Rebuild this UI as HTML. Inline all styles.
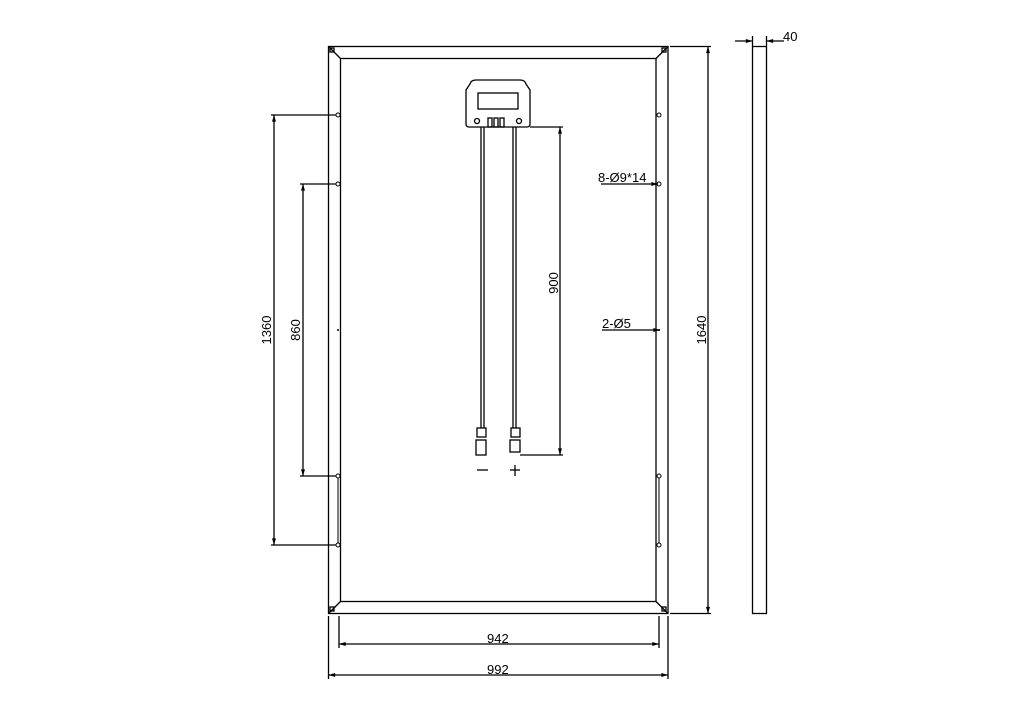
<!DOCTYPE html>
<html><head><style>body{margin:0;background:#fff}svg{display:block}text{font-family:"Liberation Sans",sans-serif;font-size:13px;fill:#000}</style></head>
<body>
<svg width="1011" height="705" viewBox="0 0 1011 705" xmlns="http://www.w3.org/2000/svg">
<defs><marker id="a" viewBox="0 0 10 6" refX="10" refY="3" markerWidth="10" markerHeight="4" orient="auto-start-reverse" markerUnits="userSpaceOnUse"><path d="M0,0L10,3L0,6z" fill="#000"/></marker></defs>
<g stroke="#000" stroke-width="1.3" fill="none">
<rect x="328.5" y="46.5" width="339.5" height="567"/>
<rect x="340.5" y="58.5" width="315.5" height="543"/>
<line x1="328.5" y1="46.5" x2="340.5" y2="58.5"/><line x1="668" y1="46.5" x2="656" y2="58.5"/>
<line x1="328.5" y1="613.5" x2="340.5" y2="601.5"/><line x1="668" y1="613.5" x2="656" y2="601.5"/>
<rect x="330" y="48" width="4" height="4"/><rect x="662" y="48" width="4" height="4"/><rect x="330" y="607" width="4" height="4"/><rect x="662" y="607" width="4" height="4"/>
<rect x="752.5" y="46.5" width="14" height="567"/>
<!-- junction box -->
<path d="M470,84 Q471,80 476,80 H520 Q525,80 526,84 L530,90 V124 Q530,127 527,127 H469 Q466,127 466,124 V90 Z"/>
<rect x="478" y="93" width="40" height="16"/>
<circle cx="477" cy="121" r="2.5"/><circle cx="519" cy="121" r="2.5"/>
<rect x="488" y="118" width="4" height="9"/><rect x="494" y="118" width="4" height="9"/><rect x="500" y="118" width="4" height="9"/>
<line x1="481" y1="127" x2="481" y2="428"/><line x1="484" y1="127" x2="484" y2="428"/>
<line x1="513" y1="127" x2="513" y2="428"/><line x1="516" y1="127" x2="516" y2="428"/>
<rect x="477" y="428" width="9" height="9"/><rect x="476" y="440" width="10" height="15"/>
<rect x="511" y="428" width="9" height="9"/><rect x="510" y="440" width="10" height="12"/>
<!-- holes -->
<g stroke-width="1">
<circle cx="338" cy="115" r="2"/><circle cx="338" cy="184" r="2"/><circle cx="338" cy="476" r="2"/><circle cx="338" cy="545" r="2"/>
<circle cx="659" cy="115" r="2"/><circle cx="659" cy="184" r="2"/><circle cx="659" cy="476" r="2"/><circle cx="659" cy="545" r="2"/>
<line x1="338" y1="478" x2="338" y2="543"/><line x1="659" y1="478" x2="659" y2="543"/>
</g>
<!-- dims -->
<line x1="271" y1="115" x2="336" y2="115"/><line x1="274" y1="115" x2="274" y2="545" marker-start="url(#a)" marker-end="url(#a)"/><line x1="271" y1="545" x2="336" y2="545"/>
<line x1="300" y1="184" x2="336" y2="184"/><line x1="303" y1="184" x2="303" y2="476" marker-start="url(#a)" marker-end="url(#a)"/><line x1="300" y1="476" x2="336" y2="476"/>
<line x1="530" y1="127" x2="563" y2="127"/><line x1="560" y1="127" x2="560" y2="455" marker-start="url(#a)" marker-end="url(#a)"/><line x1="520" y1="455" x2="563" y2="455"/>
<line x1="670" y1="46.5" x2="711" y2="46.5"/><line x1="670" y1="613.5" x2="711" y2="613.5"/><line x1="708" y1="46.5" x2="708" y2="613.5" marker-start="url(#a)" marker-end="url(#a)"/>
<line x1="339" y1="616" x2="339" y2="648"/><line x1="659" y1="616" x2="659" y2="648"/><line x1="339" y1="644" x2="659" y2="644" marker-start="url(#a)" marker-end="url(#a)"/>
<line x1="328.5" y1="616" x2="328.5" y2="679"/><line x1="668" y1="616" x2="668" y2="679"/><line x1="328.5" y1="675" x2="668" y2="675" marker-start="url(#a)" marker-end="url(#a)"/>
<line x1="752.5" y1="36" x2="752.5" y2="46"/><line x1="766.5" y1="36" x2="766.5" y2="46"/>
<line x1="735" y1="41" x2="752.5" y2="41" marker-end="url(#a)"/><line x1="784" y1="41" x2="766.5" y2="41" marker-end="url(#a)"/>
<line x1="601" y1="184" x2="658" y2="184" marker-end="url(#a)"/>
<line x1="602" y1="330" x2="660" y2="330" marker-end="url(#a)"/>
<line x1="477" y1="470" x2="488" y2="470"/><line x1="510" y1="470" x2="520" y2="470"/><line x1="515" y1="465" x2="515" y2="476"/>
</g>
<circle cx="338" cy="330" r="1" fill="#000"/><circle cx="659" cy="330" r="1" fill="#000"/>
<text x="783" y="41">40</text>
<text x="598" y="182">8-Ø9*14</text>
<text x="602" y="328">2-Ø5</text>
<text x="487" y="643">942</text>
<text x="487" y="674">992</text>
<text transform="translate(271,330) rotate(-90)" text-anchor="middle">1360</text>
<text transform="translate(300,330) rotate(-90)" text-anchor="middle">860</text>
<text transform="translate(558,283) rotate(-90)" text-anchor="middle">900</text>
<text transform="translate(706,330) rotate(-90)" text-anchor="middle">1640</text>
</svg>
</body></html>
